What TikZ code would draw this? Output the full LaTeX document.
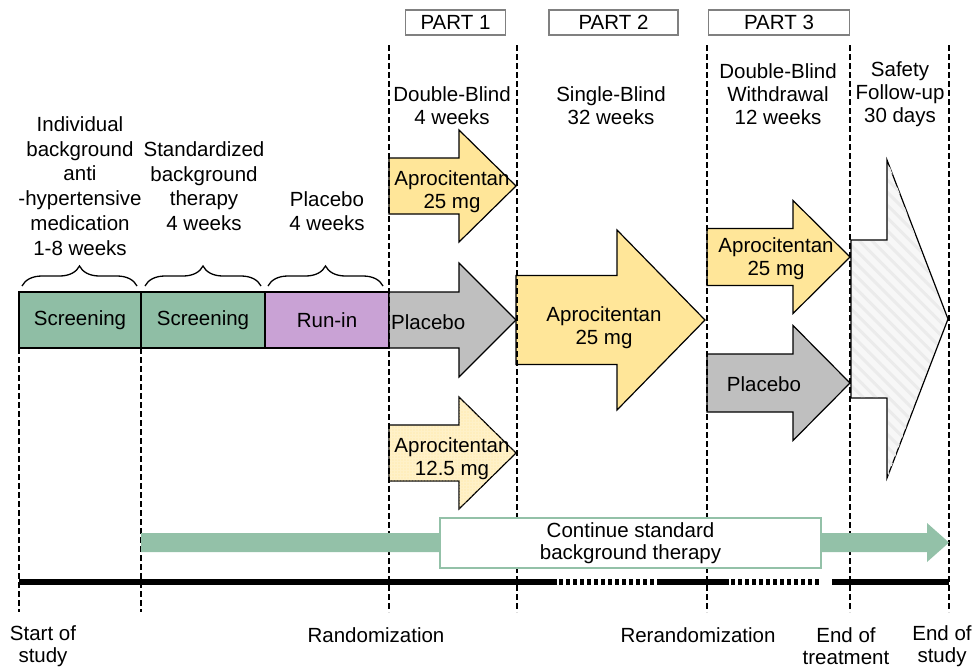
\documentclass[tikz,border=0pt]{standalone}
\usepackage{fontspec}
\setmainfont{Liberation Sans}
\usetikzlibrary{decorations.pathreplacing,patterns,patterns.meta}
\definecolor{scrgreen}{RGB}{143,190,165}
\definecolor{runpurple}{RGB}{201,162,213}
\definecolor{apyellow}{RGB}{255,230,153}
\definecolor{aplight}{RGB}{255,241,200}
\definecolor{plgray}{RGB}{191,191,191}
\definecolor{bandgreen}{RGB}{147,193,168}
\definecolor{partgray}{RGB}{128,128,128}
\newcommand\blockarrow[7]{%
  \draw[#1] (#2,#5-#6) -- (#3,#5-#6) -- (#3,#5-#7) -- (#4,#5) -- (#3,#5+#7) -- (#3,#5+#6) -- (#2,#5+#6) -- cycle;}
\tikzset{
  txt/.style={font=\fontsize{20.5}{23}\selectfont, align=center, inner sep=0pt},
  phasebox/.style={draw=black, line width=1.2pt, inner sep=0pt, outer sep=0pt, minimum height=56pt, font=\fontsize{20.5}{23}\selectfont},
  partbox/.style={draw=partgray, line width=1.3pt, inner sep=0pt, minimum height=25pt, font=\fontsize{20.5}{23}\selectfont},
  yarrow/.style={draw=black, line width=1.2pt, fill=apyellow, line join=miter},
  garrow/.style={draw=black, line width=1.2pt, fill=plgray, line join=miter},
  darrow/.style={draw=black, line width=1.2pt, fill=aplight, line join=miter},
  harrow/.style={draw=black, line width=1.2pt, fill=white!97!black, line join=miter},
  vdash/.style={line width=1.7pt, dash pattern=on 6pt off 3pt},
  tline/.style={line width=5.5pt},
  tdot/.style={line width=5.5pt, dash pattern=on 4pt off 3pt},
  bracestyle/.style={decorate, decoration={brace, amplitude=20pt}, line width=1.3pt},
}
\begin{document}
\begin{tikzpicture}[x=1pt,y=-1pt]
\useasboundingbox[fill=white] (0,0) rectangle (973,667);

% part boxes
\node[partbox, minimum width=100pt] (p1) at (455.5,22.5) {PART 1};
\node[partbox, minimum width=129pt] (p2) at (613.5,22.5) {PART 2};
\node[partbox, minimum width=141pt] (p3) at (779,22.5) {PART 3};

% period headers
\node[txt] (hdb) at (452,106) {Double-Blind\\4 weeks};
\node[txt] (hsb) at (611,106) {Single-Blind\\32 weeks};
\node[txt] (hdw) at (778,94) {Double-Blind\\Withdrawal\\12 weeks};
\node[txt] (hsf) at (900,94) {Safety\\Follow-up\\30 days};
\node[txt, font=\fontsize{20.5}{24.8}\selectfont] (hind) at (80,186) {Individual\\background\\anti\\-hypertensive\\medication\\1-8 weeks};
\node[txt, font=\fontsize{20.5}{24.5}\selectfont] (hstd) at (204,186) {Standardized\\background\\therapy\\4 weeks};
\node[txt, font=\fontsize{20.5}{24}\selectfont] (hplc) at (327,211) {Placebo\\4 weeks};

% braces
\coordinate (b1a) at (22,286); \coordinate (b1b) at (137,286);
\coordinate (b2a) at (145,286); \coordinate (b2b) at (261,286);
\coordinate (b3a) at (268,286); \coordinate (b3b) at (383,286);
\draw[bracestyle] (b1a) -- (b1b);
\draw[bracestyle] (b2a) -- (b2b);
\draw[bracestyle] (b3a) -- (b3b);

% phase boxes
\node[phasebox, fill=scrgreen, minimum width=122pt] (scr1) at (80,320) {Screening};
\node[phasebox, fill=scrgreen, minimum width=124pt] (scr2) at (203,320) {Screening};
\node[phasebox, fill=runpurple, minimum width=124pt] (run) at (327,320) {Run-in};

% treatment arrows
\blockarrow{yarrow}{389}{459}{516}{186}{28}{56}
\blockarrow{garrow}{389}{459}{516}{320}{28}{57}
\blockarrow{darrow}{389}{459}{516}{453}{28}{56}
\fill[pattern={Dots[distance=3pt,radius=0.7pt]}, pattern color=apyellow] (389,425) -- (459,425) -- (459,397) -- (516,453) -- (459,509) -- (459,481) -- (389,481) -- cycle;
\blockarrow{yarrow}{516}{617}{705}{320}{44.5}{90}
\blockarrow{yarrow}{707}{793}{850}{257}{28.5}{56.5}
\blockarrow{garrow}{707}{793}{850}{383}{29}{57.5}
\blockarrow{harrow}{851}{887}{948}{319}{79}{159}
\fill[pattern={Lines[angle=-45,distance=9pt,line width=3pt]}, pattern color=black!8] (852,241) -- (888,241) -- (888,162) -- (946,319) -- (888,476) -- (888,397) -- (852,397) -- cycle;

\node[txt] (a1) at (452,192) {Aprocitentan\\25 mg};
\node[txt, anchor=west] (pl1) at (391,322) {Placebo};
\node[txt] (a3) at (452,459) {Aprocitentan\\12.5 mg};
\node[txt] (a2) at (604,328) {Aprocitentan\\25 mg};
\node[txt] (a4) at (776,259) {Aprocitentan\\25 mg};
\node[txt] (pl2) at (764,384) {Placebo};

% vertical dashed lines
\foreach \n/\x/\ya in {v1/19/348, v2/141/348, v3/389/45, v4/517/45, v5/707/45, v6/850/45, v7/949/45}{
  \coordinate (\n t) at (\x,\ya);
  \coordinate (\n b) at (\x,612);
  \draw[vdash] (\n t) -- (\n b);
}

% continue background therapy
\fill[bandgreen] (141,533) -- (927,533) -- (927,523) -- (949,542.5) -- (927,562) -- (927,552) -- (141,552) -- cycle;
\node[draw=bandgreen, line width=1.8pt, fill=white, minimum width=381pt, minimum height=50pt, inner sep=0pt, font=\fontsize{20.5}{22}\selectfont, align=center] (cont) at (630.5,543) {Continue standard\\background therapy};

% timeline
\coordinate (t0) at (19,582); \coordinate (t1) at (557,582);
\coordinate (t2) at (559,582); \coordinate (t3) at (660,582);
\coordinate (t4) at (729,582); \coordinate (t5) at (731,582);
\coordinate (t6) at (820,582); \coordinate (t7) at (832,582);
\coordinate (t8) at (949,582);
\draw[tline] (t0) -- (t1);
\draw[tdot] (t2) -- (t3);
\draw[tline] (t3) -- (t4);
\draw[tdot] (t5) -- (t6);
\draw[tline] (t7) -- (t8);

% milestone labels
\node[txt, font=\fontsize{20.5}{22}\selectfont] (m1) at (43,646) {Start of\\study};
\node[txt] (m2) at (376,635) {Randomization};
\node[txt] (m3) at (698,635) {Rerandomization};
\node[txt, font=\fontsize{20.5}{22}\selectfont] (m4) at (846,646) {End of\\treatment};
\node[txt, font=\fontsize{20.5}{22}\selectfont] (m5) at (942,646) {End of\\study};
\end{tikzpicture}
\end{document}
